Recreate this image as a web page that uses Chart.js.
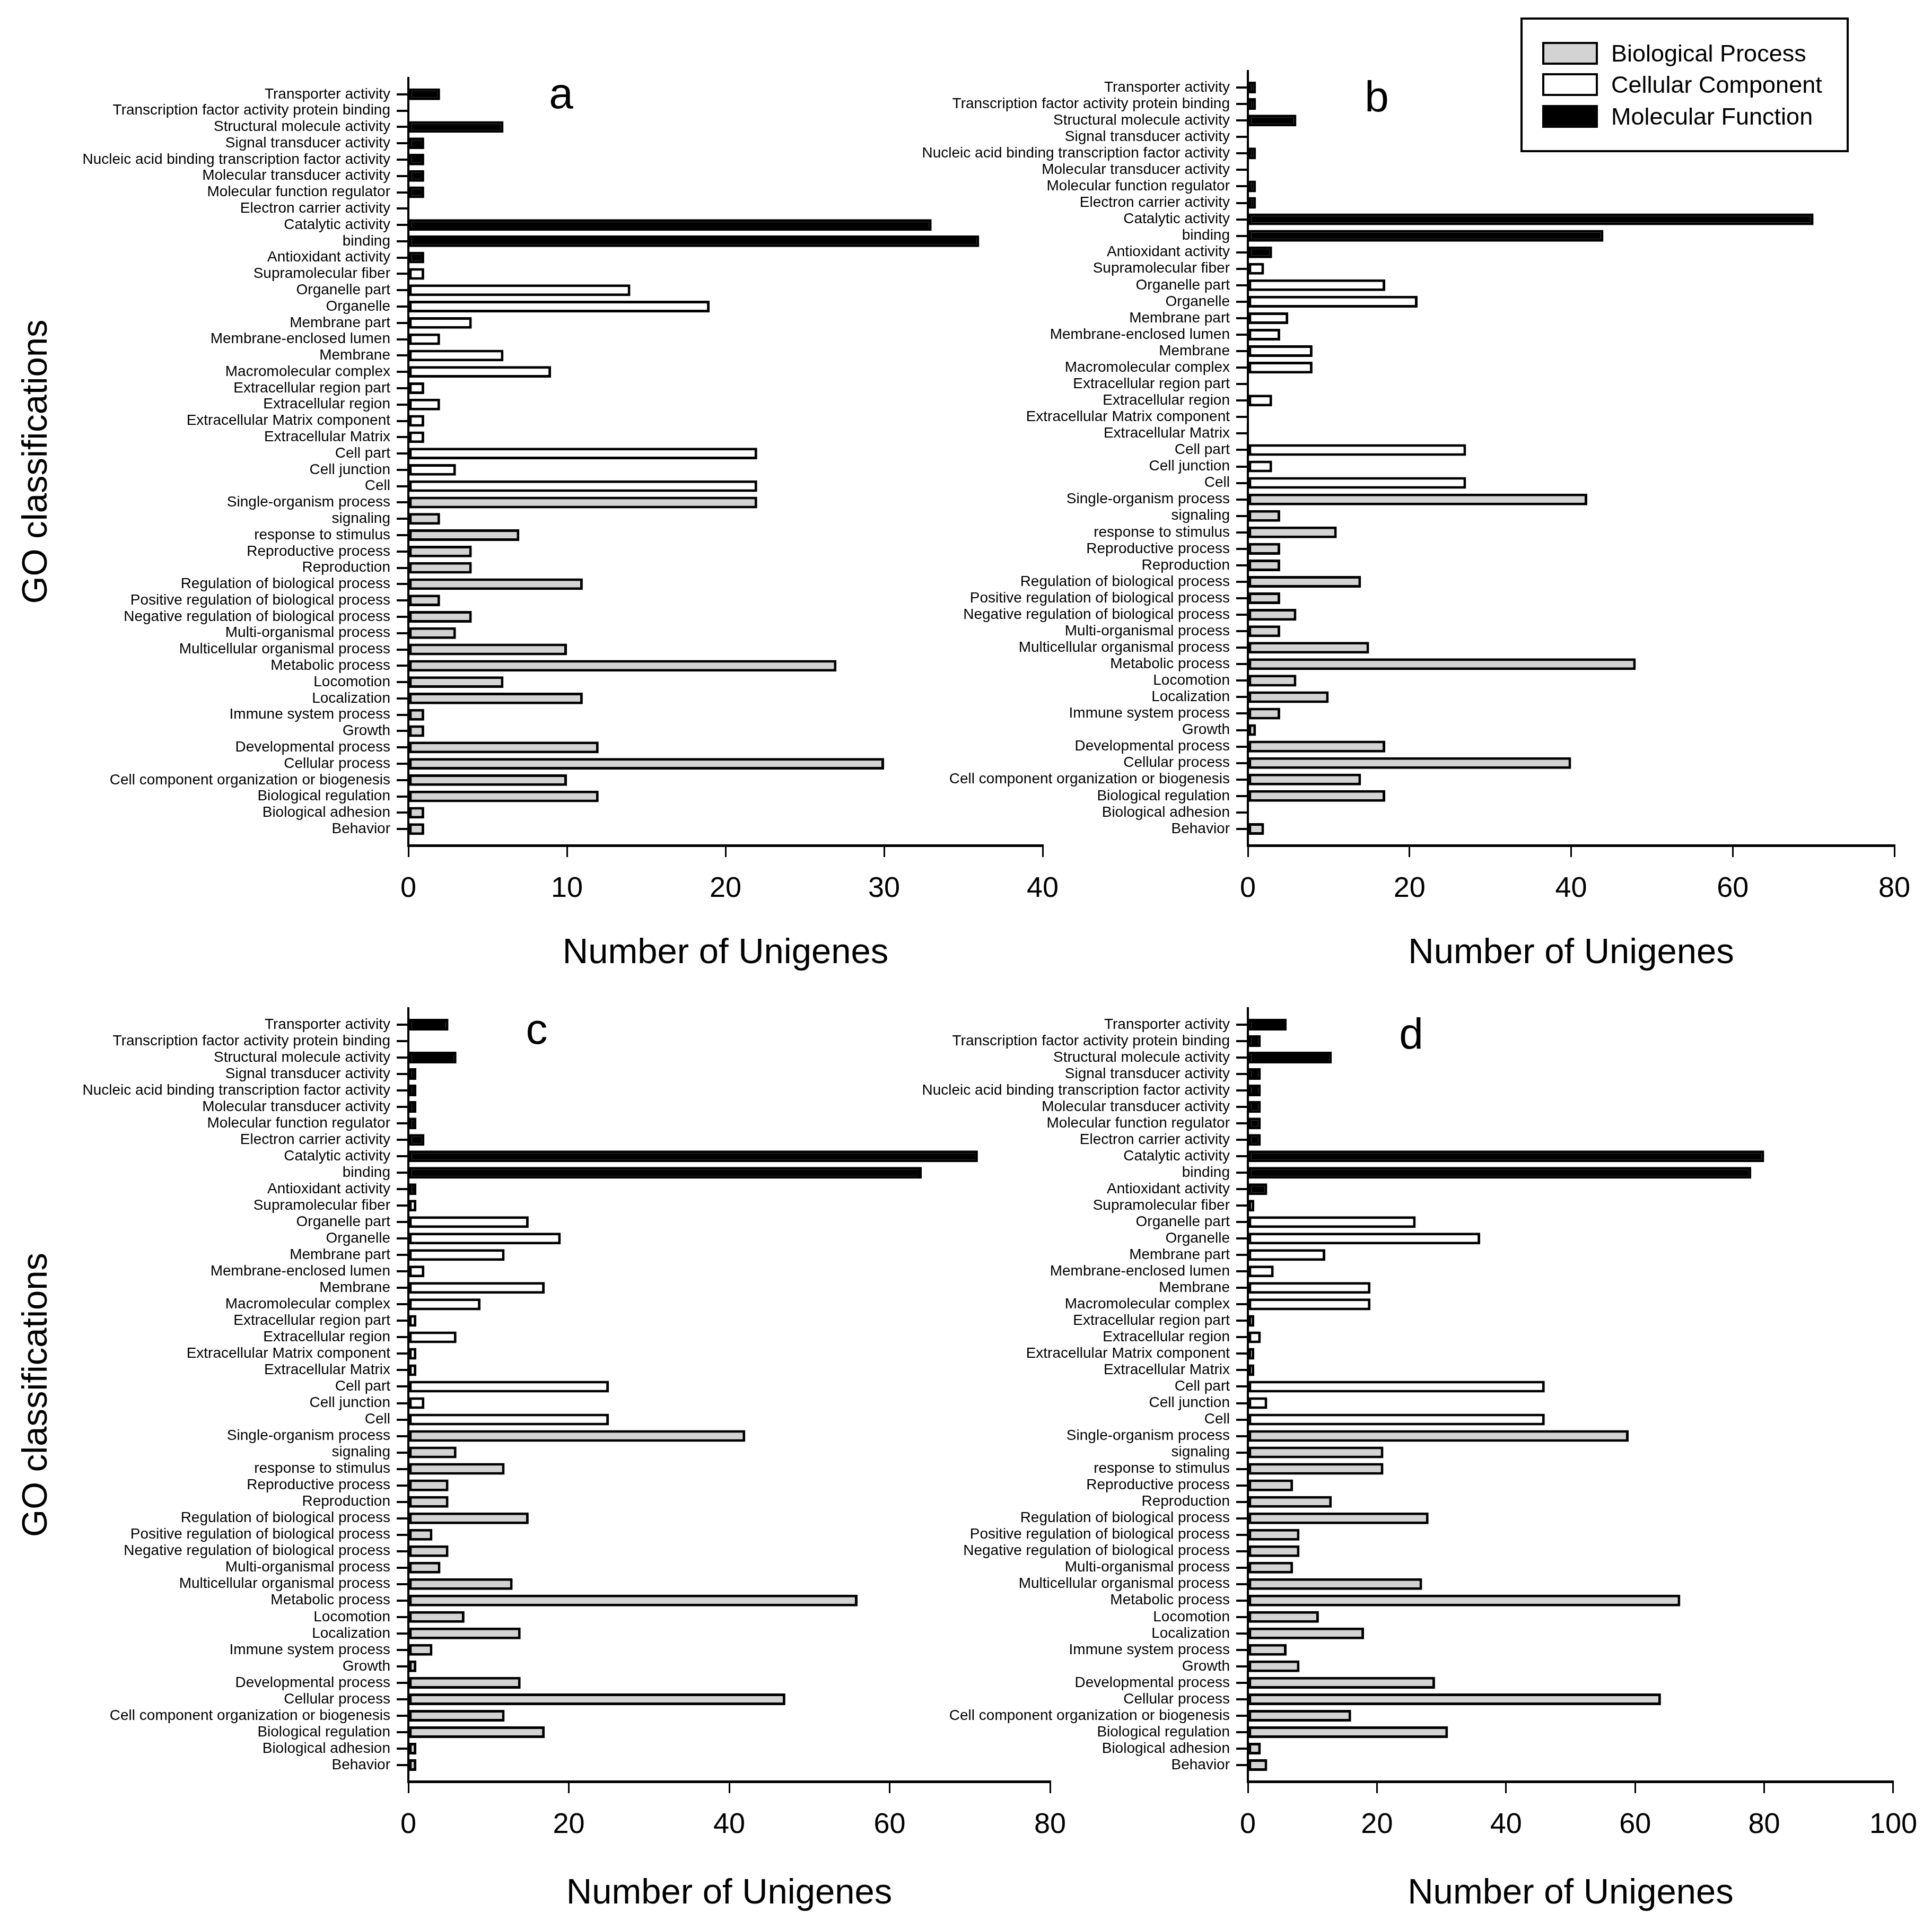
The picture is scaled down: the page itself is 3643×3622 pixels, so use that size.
<!DOCTYPE html>
<html>
<head>
<meta charset="utf-8">
<title>GO classifications</title>
<script src="https://cdn.jsdelivr.net/npm/chart.js@4.4.1/dist/chart.umd.min.js"></script>
<style>
  html, body { margin: 0; padding: 0; background: #fff; }
  #page { position: relative; width: 3643px; height: 3622px; overflow: hidden; background: #fff;
          font-family: 'Liberation Sans', Arial, sans-serif; color: #000; }
  canvas { position: absolute; }
  .letter { position: absolute; font-size: 82px; line-height: 1; transform: translateX(-50%); }
  #legend { position: absolute; left: 2867px; top: 33px; width: 619px; height: 254px;
            border: 4px solid #000; box-sizing: border-box; }
  .lg-row { position: absolute; left: 37px; height: 60px; display: flex; align-items: center;
            font-size: 45px; line-height: 1; white-space: nowrap; }
  .lg-box { width: 105px; height: 43px; border: 4px solid #000; box-sizing: border-box; margin-right: 25px; }
</style>
</head>
<body>
<div id="page"></div>
<script>
// ── Data ─────────────────────────────────────────────────
const categories = [
  'Transporter activity', 'Transcription factor activity protein binding', 'Structural molecule activity',
  'Signal transducer activity', 'Nucleic acid binding transcription factor activity', 'Molecular transducer activity',
  'Molecular function regulator', 'Electron carrier activity', 'Catalytic activity', 'binding', 'Antioxidant activity',
  'Supramolecular fiber', 'Organelle part', 'Organelle', 'Membrane part', 'Membrane-enclosed lumen', 'Membrane',
  'Macromolecular complex', 'Extracellular region part', 'Extracellular region', 'Extracellular Matrix component',
  'Extracellular Matrix', 'Cell part', 'Cell junction', 'Cell',
  'Single-organism process', 'signaling', 'response to stimulus', 'Reproductive process', 'Reproduction',
  'Regulation of biological process', 'Positive regulation of biological process',
  'Negative regulation of biological process', 'Multi-organismal process', 'Multicellular organismal process',
  'Metabolic process', 'Locomotion', 'Localization', 'Immune system process', 'Growth', 'Developmental process',
  'Cellular process', 'Cell component organization or biogenesis', 'Biological regulation', 'Biological adhesion',
  'Behavior'
];

// GO domain of each category (same order as categories)
const categoryGroup = [
  'MF','MF','MF','MF','MF','MF','MF','MF','MF','MF','MF',
  'CC','CC','CC','CC','CC','CC','CC','CC','CC','CC','CC','CC','CC','CC',
  'BP','BP','BP','BP','BP','BP','BP','BP','BP','BP','BP','BP','BP','BP','BP','BP','BP','BP','BP','BP','BP'
];

const groupKeys  = ['BP', 'CC', 'MF'];
const groupNames = ['Biological Process', 'Cellular Component', 'Molecular Function'];

const valuesA = [2,0,6,1,1,1,1,0,33,36,1,
                 1,14,19,4,2,6,9,1,2,1,1,22,3,22,
                 22,2,7,4,4,11,2,4,3,10,27,6,11,1,1,12,30,10,12,1,1];
const valuesB = [1,1,6,0,1,0,1,1,70,44,3,
                 2,17,21,5,4,8,8,0,3,0,0,27,3,27,
                 42,4,11,4,4,14,4,6,4,15,48,6,10,4,1,17,40,14,17,0,2];
const valuesC = [5,0,6,1,1,1,1,2,71,64,1,
                 1,15,19,12,2,17,9,1,6,1,1,25,2,25,
                 42,6,12,5,5,15,3,5,4,13,56,7,14,3,1,14,47,12,17,1,1];
const valuesD = [6,2,13,2,2,2,2,2,80,78,3,
                 1,26,36,12,4,19,19,1,2,1,1,46,3,46,
                 59,21,21,7,13,28,8,8,7,27,67,11,18,6,8,29,64,16,31,2,3];

const panelValues  = [valuesA, valuesB, valuesC, valuesD];
const panelLetters = ['a', 'b', 'c', 'd'];
const axisMax      = [40, 80, 80, 100];
const axisStep     = [10, 20, 20, 20];

const xTitle = 'Number of Unigenes';
const yTitle = 'GO classifications';

// ── Look ─────────────────────────────────────────────────
const GROUP_FILL = { BP: '#d3d3d3', CC: '#ffffff', MF: '#000000' };

// page placement of each panel: canvas box and wanted plot box (page pixels)
const PANELS = [
  { left: 0,    top: 0,    width: 2040, height: 1850, plotL: 770,  plotR: 1966, plotT: 147,  plotB: 1594, titleY: 1798, yTitle: true,
    letterX: 1058, letterBase: 204 },
  { left: 1700, top: 0,    width: 1943, height: 1850, plotL: 2353, plotR: 3572, plotT: 134,  plotB: 1594, titleY: 1798, yTitle: false,
    letterX: 2596, letterBase: 210 },
  { left: 0,    top: 1850, width: 2040, height: 1772, plotL: 770,  plotR: 1980, plotT: 1901, plotB: 3359, titleY: 3571, yTitle: true,
    letterX: 1012, letterBase: 1968 },
  { left: 1700, top: 1850, width: 1943, height: 1772, plotL: 2353, plotR: 3572, plotT: 1901, plotB: 3359, titleY: 3571, yTitle: false,
    letterX: 2661, letterBase: 1977 },
];

// condensed tick labels if the narrow face is installed, regular one a size down otherwise
function hasFont(name) {
  const c = document.createElement('canvas').getContext('2d');
  const s = 'Nucleic acid binding transcription factor activity';
  c.font = '40px monospace';
  const w0 = c.measureText(s).width;
  c.font = `40px "${name}", monospace`;
  return c.measureText(s).width !== w0;
}
const TICK_FONT = hasFont('Liberation Sans Narrow')
  ? { family: "'Liberation Sans Narrow'", size: 34 }
  : { family: "'Liberation Sans', Arial", size: 28 };
const MAIN_FAMILY = "'Liberation Sans', Arial, sans-serif";
const TITLE_SIZE = 67;

const page = document.getElementById('page');

function renderPanel(i) {
  const p = PANELS[i];
  const values = panelValues[i];

  const canvas = document.createElement('canvas');
  canvas.width = p.width; canvas.height = p.height;
  canvas.style.left = p.left + 'px'; canvas.style.top = p.top + 'px';
  canvas.style.width = p.width + 'px'; canvas.style.height = p.height + 'px';
  page.appendChild(canvas);

  const yAxisWidth  = p.plotL - p.left;
  const xAxisHeight = p.top + p.height - p.plotB;
  const titleLH = TITLE_SIZE * 1.2;

  new Chart(canvas.getContext('2d'), {
    type: 'bar',
    data: {
      datasets: [{
        data: values.map((v, k) => ({ x: v, y: k })),
        backgroundColor: c => GROUP_FILL[categoryGroup[c.dataIndex]],
        borderColor: '#000',
        borderWidth: c => (values[c.dataIndex] > 0 ? 5 : 0),
        borderSkipped: false,
        categoryPercentage: 1,
        barPercentage: 0.71,
      }],
    },
    options: {
      indexAxis: 'y',
      responsive: false,
      animation: false,
      events: [],
      layout: { padding: { left: 0, top: p.plotT - p.top, right: p.left + p.width - p.plotR, bottom: 0 } },
      plugins: { legend: { display: false }, tooltip: { enabled: false } },
      scales: {
        y: {
          type: 'linear',
          reverse: true,
          min: -1,
          max: categories.length,
          offset: false,
          afterBuildTicks: s => { s.ticks = s.ticks.filter(t => t.value >= 0 && t.value < categories.length); },
          afterFit: s => { s.width = yAxisWidth; },
          ticks: {
            stepSize: 1, maxTicksLimit: 100, autoSkip: false, padding: 12,
            color: '#000', font: TICK_FONT,
            callback: v => categories[v],
          },
          grid: { offset: false, drawOnChartArea: false, drawTicks: true, tickLength: 22, lineWidth: 4, color: '#000' },
          border: { display: true, color: '#000', width: 4, z: 1 },
          title: {
            display: p.yTitle, text: yTitle, color: '#000',
            font: { family: MAIN_FAMILY, size: TITLE_SIZE },
            padding: { top: 29, bottom: 0 },
          },
        },
        x: {
          type: 'linear',
          min: 0,
          max: axisMax[i],
          afterFit: s => { s.height = xAxisHeight; },
          ticks: { stepSize: axisStep[i], padding: 28, color: '#000', font: { family: MAIN_FAMILY, size: 54 } },
          grid: { drawOnChartArea: false, drawTicks: true, tickLength: 22, lineWidth: 3, color: '#000' },
          border: { display: true, color: '#000', width: 5, z: 1 },
          title: {
            display: true, text: xTitle, color: '#000',
            font: { family: MAIN_FAMILY, size: TITLE_SIZE },
            padding: { top: 0, bottom: p.top + p.height - p.titleY - titleLH / 2 },
          },
        },
      },
    },
  });

  const letter = document.createElement('div');
  letter.className = 'letter';
  letter.textContent = panelLetters[i];
  letter.style.left = p.letterX + 'px';
  letter.style.top = (p.letterBase - 82 * 0.8465) + 'px';
  page.appendChild(letter);
}

function renderLegend() {
  const box = document.createElement('div');
  box.id = 'legend';
  const rowCenters = [63, 122, 182];
  groupKeys.forEach((g, k) => {
    const row = document.createElement('div');
    row.className = 'lg-row';
    row.style.top = (rowCenters[k] - 30) + 'px';
    row.innerHTML = `<span class="lg-box" style="background:${GROUP_FILL[g]}"></span><span>${groupNames[k]}</span>`;
    box.appendChild(row);
  });
  page.appendChild(box);
}

PANELS.forEach((_, i) => renderPanel(i));
renderLegend();
</script>
</body>
</html>
